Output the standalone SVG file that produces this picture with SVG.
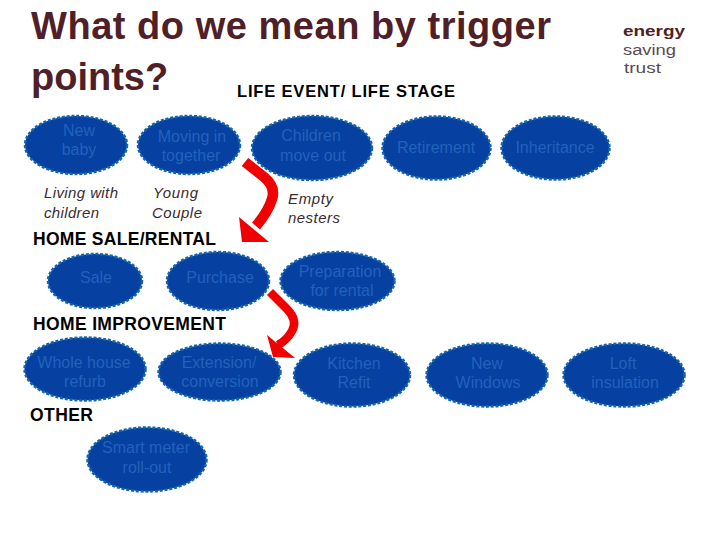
<svg xmlns="http://www.w3.org/2000/svg" width="720" height="540" viewBox="0 0 720 540">
<style>
text{font-family:"Liberation Sans",Arial,sans-serif}
.n ellipse{fill:#0640a0;stroke:#1464ac;stroke-width:2.5;stroke-dasharray:3 1.8}
.n text{font-size:16px;fill:#2262bc;text-anchor:middle}
.i{font-size:15px;font-style:italic;fill:#3a2a30}
.h{font-size:17.5px;font-weight:bold;fill:#000}
.t{font-size:38px;font-weight:bold;fill:#4f2027}
.a{fill:none;stroke:#f00000}
.ah{fill:#f00000}
.l{font-size:15.5px;fill:#5a4a50}
</style>
<g id="title"><text class="t" x="31" y="39" textLength="520">What do we mean by trigger</text><text class="t" x="31" y="90">points?</text>
<text x="237" y="97" class="h" style="font-size:16.5px" textLength="218">LIFE EVENT/ LIFE STAGE</text></g>
<g id="logo"><text x="623" y="36" class="l" style="font-weight:bold;fill:#4f2027" textLength="62" lengthAdjust="spacingAndGlyphs">energy</text>
<text x="623" y="55" class="l" textLength="53" lengthAdjust="spacingAndGlyphs">saving</text>
<text x="624" y="73" class="l" textLength="37" lengthAdjust="spacingAndGlyphs">trust</text></g>
<g id="connectors">
<path class="a" stroke-width="10.5" d="M245 162L264 177Q276 187 272 199Q268 212 256 226"/><polygon class="ah" points="239,217 269,242 242,242"/>
<path class="a" stroke-width="8.5" d="M270 292L287 309Q298 320 292 331Q287 340 278 345"/><polygon class="ah" points="267,335 295,358 273,357"/>
</g>
<g id="new-baby" class="n"><ellipse cx="76" cy="145" rx="51" ry="29"/><text x="79" y="136">New</text><text x="79" y="155">baby</text></g>
<g id="moving-in" class="n"><ellipse cx="189" cy="145" rx="51" ry="29"/><text x="192" y="142">Moving in</text><text x="191" y="161">together</text></g>
<g id="children-move-out" class="n"><ellipse cx="312" cy="148" rx="60" ry="32"/><text x="311" y="141">Children</text><text x="313" y="161">move out</text></g>
<g id="retirement" class="n"><ellipse cx="436.5" cy="148" rx="54" ry="31.5"/><text x="436" y="153">Retirement</text></g>
<g id="inheritance" class="n"><ellipse cx="555.5" cy="148" rx="54" ry="31.5"/><text x="555" y="153">Inheritance</text></g>
<g id="life-labels"><text class="i" x="44" y="198" textLength="74">Living with</text><text class="i" x="44" y="218" textLength="55">children</text>
<text class="i" x="153" y="198" textLength="45">Young</text><text class="i" x="152" y="218" textLength="50">Couple</text>
<text class="i" x="288" y="204" textLength="45">Empty</text><text class="i" x="288" y="223" textLength="52">nesters</text></g>
<text class="h" x="33" y="245" textLength="183">HOME SALE/RENTAL</text>
<g id="sale" class="n"><ellipse cx="95" cy="281" rx="47" ry="27"/><text x="96" y="283">Sale</text></g>
<g id="purchase" class="n"><ellipse cx="218" cy="281" rx="51" ry="29"/><text x="220" y="283">Purchase</text></g>
<g id="preparation" class="n"><ellipse cx="337.5" cy="281" rx="57" ry="29"/><text x="340" y="277">Preparation</text><text x="342" y="296">for rental</text></g>
<text class="h" x="33" y="330" textLength="193">HOME IMPROVEMENT</text>
<g id="whole-house" class="n"><ellipse cx="85" cy="369" rx="60.500" ry="31.500"/><text x="84" y="368">Whole house</text><text x="85" y="387">refurb</text></g>
<g id="extension" class="n"><ellipse cx="219.500" cy="372" rx="61" ry="28.500"/><text x="219" y="368">Extension/</text><text x="220" y="387">conversion</text></g>
<g id="kitchen" class="n"><ellipse cx="352" cy="375" rx="58" ry="31.500"/><text x="354" y="369">Kitchen</text><text x="354" y="388">Refit</text></g>
<g id="windows" class="n"><ellipse cx="487" cy="375" rx="60.500" ry="31.500"/><text x="487" y="369">New</text><text x="488" y="388">Windows</text></g>
<g id="loft" class="n"><ellipse cx="624" cy="375" rx="60.500" ry="31.500"/><text x="623" y="369">Loft</text><text x="625" y="388">insulation</text></g>
<text class="h" x="30" y="421" textLength="63">OTHER</text>
<g id="smart-meter" class="n"><ellipse cx="147" cy="459.500" rx="59.500" ry="32"/><text x="146" y="453">Smart meter</text><text x="147" y="473">roll-out</text></g>
</svg>
